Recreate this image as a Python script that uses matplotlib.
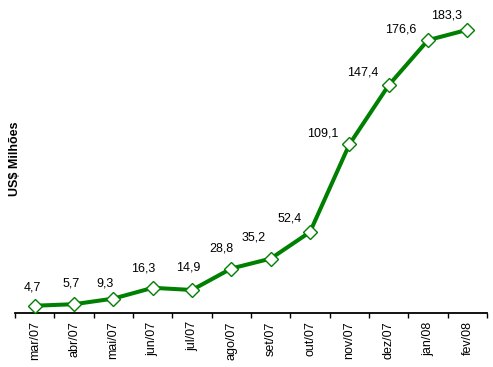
import matplotlib
matplotlib.use("Agg")
import matplotlib.pyplot as plt
import numpy as np

months = ["mar/07", "abr/07", "mai/07", "jun/07", "jul/07", "ago/07",
          "set/07", "out/07", "nov/07", "dez/07", "jan/08", "fev/08"]
values = [4.7, 5.7, 9.3, 16.3, 14.9, 28.8, 35.2, 52.4, 109.1, 147.4, 176.6, 183.3]
value_labels = ["4,7", "5,7", "9,3", "16,3", "14,9", "28,8", "35,2", "52,4",
                "109,1", "147,4", "176,6", "183,3"]

# label offsets in pixels (style)
label_dx = [-2, -3, -8, -9, -4, -10, -17, -20, -27, -26, -27, -21]
label_dy = [18, 21, 15, 19, 22, 20, 21, 14, 11, 13, 11, 14]

plt.rcParams['font.family'] = ['Liberation Sans', 'DejaVu Sans']

W, H = 493, 367
fig = plt.figure(figsize=(W / 100, H / 100), dpi=100)
ax = fig.add_axes([15 / W, 1 - 313 / H, (487 - 15) / W, (313 - 4) / H])

x = np.arange(len(months))
ax.plot(x, values, color="#008000", lw=2.9, marker="D", markersize=7.5,
        markerfacecolor="white", markeredgecolor="#008000", markeredgewidth=1,
        solid_joinstyle="round", zorder=3)

for xi, v, lab, dx, dy in zip(x, values, value_labels, label_dx, label_dy):
    ax.annotate(lab, (xi, v), xytext=(dx, dy), textcoords="offset pixels",
                ha="center", va="center", fontsize=9, color="black")

ax.set_xlim(-0.5, len(months) - 0.5)
ax.set_ylim(0, 200)

for s in ["top", "right", "left"]:
    ax.spines[s].set_visible(False)
ax.spines["bottom"].set_linewidth(1.3)
ax.spines["bottom"].set_color("black")

ax.set_yticks([])
ax.set_xticks(np.arange(-0.5, len(months) + 0.5, 1.0))
ax.set_xticklabels([])
ax.tick_params(axis="x", which="major", length=3.5, width=1, direction="out", color="black")
ax.set_xticks(x, minor=True)
ax.set_xticklabels(months, minor=True, rotation=90, fontsize=9)
ax.tick_params(axis="x", which="minor", length=0, pad=6)

fig.text(15 / W, 1 - 159 / H, "US$ Milhões", rotation=90, ha="center", va="center",
         fontsize=9, fontweight="bold")

fig.savefig("out.png", dpi=100)
